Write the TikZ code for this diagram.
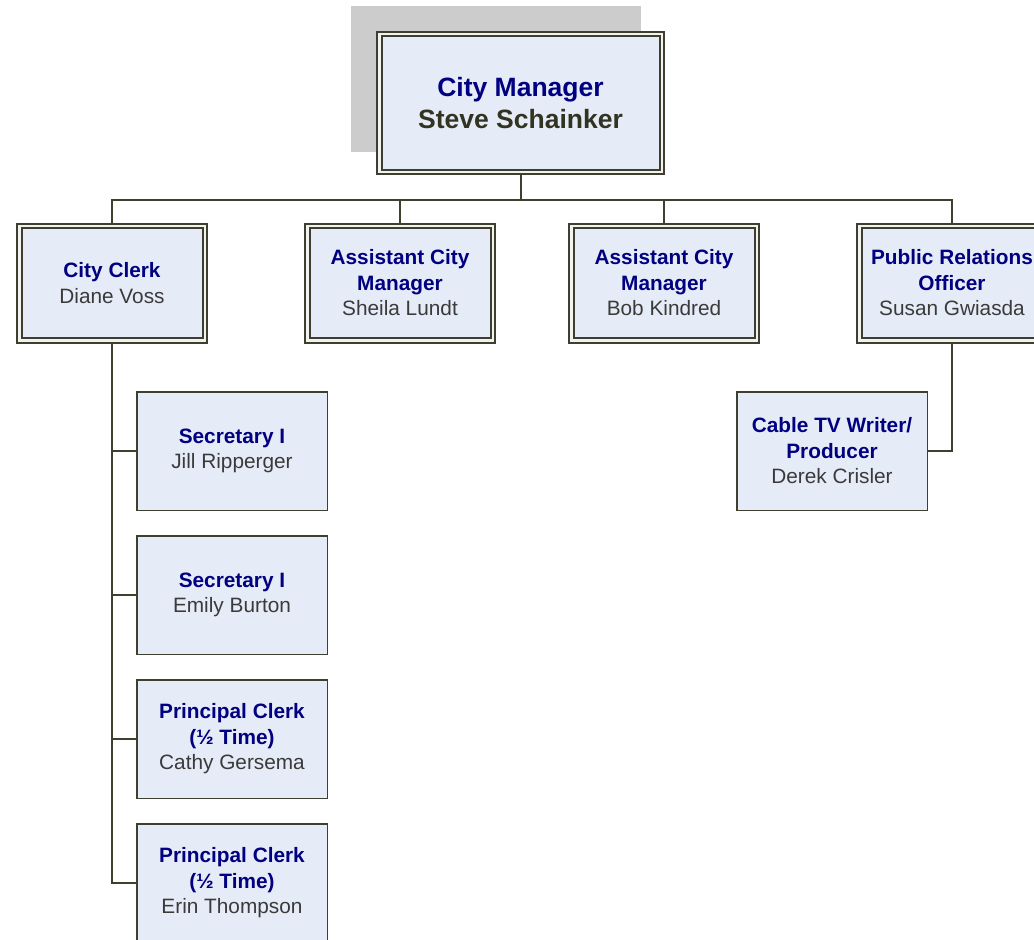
\documentclass[tikz,border=0pt]{standalone}
\usepackage{fontspec}
\setmainfont{Liberation Sans}
\usetikzlibrary{backgrounds}
\definecolor{edge}{HTML}{3F3F2F}
\definecolor{boxfill}{HTML}{E6ECF7}
\definecolor{titleblue}{HTML}{000080}
\definecolor{namegray}{HTML}{3A3A3A}
\definecolor{namedark}{HTML}{333322}
\definecolor{shadowgray}{HTML}{CCCCCC}
\definecolor{gapcol}{HTML}{F2F2F2}
\tikzset{
  dbox/.style={draw=edge, fill=boxfill, line width=2pt, double=gapcol, double distance=2.5pt,
    minimum width=185.5pt, minimum height=114.5pt, inner sep=0pt, align=center,
    font=\fontsize{20.8}{25.5}\selectfont},
  sbox/.style={draw=edge, fill=boxfill, line width=1.5pt,
    minimum width=190.5pt, minimum height=118.5pt, inner sep=0pt, align=center,
    font=\fontsize{20.8}{25.5}\selectfont},
  conn/.style={draw=edge, line width=2pt},
}
\newcommand{\ttl}[1]{\textcolor{titleblue}{\bfseries #1}}
\newcommand{\nm}[1]{\textcolor{namegray}{#1}}
\begin{document}
\begin{tikzpicture}[x=1pt,y=-1pt]
\useasboundingbox (0,0) rectangle (1034,940);
\clip (0,0) rectangle (1034,940);
\fill[shadowgray] (351,6) rectangle (641,152);
\node[dbox, minimum width=282.5pt, minimum height=138pt, font=\fontsize{26.5}{32}\selectfont] (cm) at (520.5,102.75)
  {\ttl{City Manager}\\\textcolor{namedark}{\bfseries Steve Schainker}};
\node[dbox] (clerk) at (112,283) {\ttl{City Clerk}\\\nm{Diane Voss}};
\node[dbox] (acm1) at (400,283) {\ttl{Assistant City}\\\ttl{Manager}\\\nm{Sheila Lundt}};
\node[dbox] (acm2) at (664,283) {\ttl{Assistant City}\\\ttl{Manager}\\\nm{Bob Kindred}};
\node[dbox] (pr) at (952,283) {\ttl{Public Relations}\\\ttl{Officer}\\\nm{Susan Gwiasda}};
\node[sbox] (sec1) at (232,451) {\ttl{Secretary I}\\\nm{Jill Ripperger}};
\node[sbox] (sec2) at (232,595) {\ttl{Secretary I}\\\nm{Emily Burton}};
\node[sbox] (pc1) at (232,739) {\ttl{Principal Clerk}\\\ttl{(½ Time)}\\\nm{Cathy Gersema}};
\node[sbox] (pc2) at (232,883) {\ttl{Principal Clerk}\\\ttl{(½ Time)}\\\nm{Erin Thompson}};
\node[sbox] (cable) at (832,451) {\ttl{Cable TV Writer/}\\\ttl{Producer}\\\nm{Derek Crisler}};
\coordinate (hub) at (520.5,200);
\begin{scope}[on background layer]
\draw[conn] (cm.south) -- (hub);
\draw[conn] (hub) -| (clerk.north);
\draw[conn] (hub) -| (acm1.north);
\draw[conn] (hub) -| (acm2.north);
\draw[conn] (hub) -| (pr.north);
\draw[conn] (clerk.south) |- (sec1.west);
\draw[conn] (clerk.south) |- (sec2.west);
\draw[conn] (clerk.south) |- (pc1.west);
\draw[conn] (clerk.south) |- (pc2.west);
\draw[conn] (pr.south) |- (cable.east);
\end{scope}
\end{tikzpicture}
\end{document}
